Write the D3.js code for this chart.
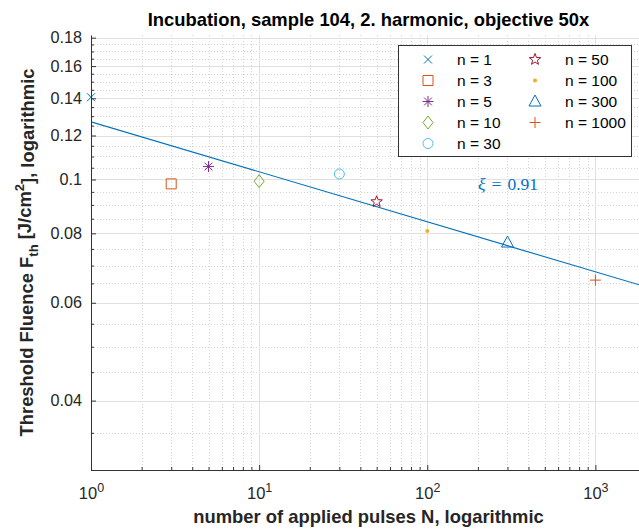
<!DOCTYPE html>
<html>
<head>
<meta charset="utf-8">
<script src="https://cdn.jsdelivr.net/npm/d3@7"></script>
<style>
  html, body { margin: 0; padding: 0; background: #fff; }
  svg { display: block; }
</style>
</head>
<body>
<svg id="chart" width="639" height="530"></svg>
<script>
// Incubation: threshold fluence versus number of applied pulses (log-log)
const pulses  = [1, 3, 5, 10, 30, 50, 100, 300, 1000];
const fluence = [0.1406, 0.0982, 0.1055, 0.0993, 0.1023, 0.0912, 0.0808, 0.0770, 0.0659];
const seriesLabels = ["n = 1", "n = 3", "n = 5", "n = 10", "n = 30", "n = 50", "n = 100", "n = 300", "n = 1000"];

const xTickValues = [1, 10, 100, 1000];
const yTickValues = [0.04, 0.06, 0.08, 0.1, 0.12, 0.14, 0.16, 0.18];
const yTickLabels = ["0.04", "0.06", "0.08", "0.1", "0.12", "0.14", "0.16", "0.18"];

// power-law incubation model F(N) = F1 * N^(xi - 1)
const fitXi = 0.91;
const fitF1 = 0.127;

const titleText = "Incubation, sample 104, 2. harmonic, objective 50x";
const xLabelText = "number of applied pulses N, logarithmic";

// marker style per series (MATLAB-like color order)
const markerTypes  = ["x", "square", "asterisk", "diamond", "circle", "star", "point", "triangle", "plus"];
const markerColors = ["#0072BD", "#D95319", "#7E2F8E", "#77AC30", "#4DBEEE", "#A2142F", "#EDB120", "#0072BD", "#D95319"];

const svg = d3.select("#chart");
const W = 639, H = 530;
const plot = { left: 91, right: 646, top: 35, bottom: 470 };

const x = d3.scaleLog().domain([1, 2000]).range([plot.left, plot.right]);
const y = d3.scaleLog().domain([0.03, 0.182]).range([plot.bottom, plot.top]);

const axisColor = "#333333";
const textColor = "#262626";
const sansFont = "'Liberation Sans', Arial, Helvetica, sans-serif";

svg.append("rect").attr("width", W).attr("height", H).attr("fill", "#fff");

svg.append("defs").append("clipPath").attr("id", "plotClip")
  .append("rect")
  .attr("x", plot.left).attr("y", plot.top)
  .attr("width", plot.right - plot.left).attr("height", plot.bottom - plot.top);

// minor positions: 2..9 per decade on x, 0.005 steps on y
const xMinor = [];
[1, 10, 100, 1000].forEach(d => { for (let k = 2; k <= 9; k++) { if (d * k <= 2000) xMinor.push(d * k); } });
const yMinor = d3.range(30, 183, 5).map(v => v / 1000)
  .filter(v => !yTickValues.some(t => Math.abs(t - v) < 1e-9));

const snap = v => Math.round(v) + 0.5;

// grid
const grid = svg.append("g").attr("clip-path", "url(#plotClip)");
grid.selectAll(".xminor").data(xMinor).join("line")
  .attr("x1", d => snap(x(d))).attr("x2", d => snap(x(d)))
  .attr("y1", plot.top).attr("y2", plot.bottom)
  .attr("stroke", "#d4d4d4").attr("stroke-dasharray", "1,2");
grid.selectAll(".yminor").data(yMinor).join("line")
  .attr("y1", d => snap(y(d))).attr("y2", d => snap(y(d)))
  .attr("x1", plot.left).attr("x2", plot.right)
  .attr("stroke", "#d4d4d4").attr("stroke-dasharray", "1,2");
grid.selectAll(".xmajor").data(xTickValues).join("line")
  .attr("x1", d => snap(x(d))).attr("x2", d => snap(x(d)))
  .attr("y1", plot.top).attr("y2", plot.bottom)
  .attr("stroke", "#e0e0e0");
grid.selectAll(".ymajor").data(yTickValues).join("line")
  .attr("y1", d => snap(y(d))).attr("y2", d => snap(y(d)))
  .attr("x1", plot.left).attr("x2", plot.right)
  .attr("stroke", "#e0e0e0");

// fitted incubation line
const fitLine = d3.line().x(d => x(d)).y(d => y(fitF1 * Math.pow(d, fitXi - 1)));
grid.append("path")
  .datum(x.domain())
  .attr("d", fitLine)
  .attr("fill", "none")
  .attr("stroke", "#0072BD")
  .attr("stroke-width", 1.1);

// marker shapes centred on (0,0)
function markerPath(type) {
  switch (type) {
    case "x": return "M-4,-4L4,4M-4,4L4,-4";
    case "square": return "M-5,-5H5V5H-5Z";
    case "asterisk": return "M-5.5,0H5.5M0,-5.5V5.5M-3.9,-3.9L3.9,3.9M-3.9,3.9L3.9,-3.9";
    case "diamond": return "M0,-6.5L5,0L0,6.5L-5,0Z";
    case "circle": return "M5,0A5,5 0 1,1 -5,0A5,5 0 1,1 5,0Z";
    case "star": {
      let p = "";
      for (let i = 0; i < 10; i++) {
        const r = i % 2 === 0 ? 6 : 2.5;
        const a = -Math.PI / 2 + i * Math.PI / 5;
        p += (i === 0 ? "M" : "L") + (r * Math.cos(a)).toFixed(2) + "," + (r * Math.sin(a)).toFixed(2);
      }
      return p + "Z";
    }
    case "point": return "M2,0A2,2 0 1,1 -2,0A2,2 0 1,1 2,0Z";
    case "triangle": return "M0,-6.5L6,4.5L-6,4.5Z";
    case "plus": return "M-5.5,0H5.5M0,-5.5V5.5";
  }
  return "";
}

function drawMarker(sel, i) {
  sel.append("path")
    .attr("d", markerPath(markerTypes[i]))
    .attr("fill", markerTypes[i] === "point" ? markerColors[i] : "none")
    .attr("stroke", markerColors[i])
    .attr("stroke-width", markerTypes[i] === "point" ? 0 : 1);
}

// data markers
const pts = svg.append("g");
pulses.forEach((n, i) => {
  const g = pts.append("g").attr("transform", `translate(${x(n)},${y(fluence[i])})`);
  drawMarker(g, i);
});

// y axis with inward ticks
const yAxis = d3.axisLeft(y)
  .tickValues(yTickValues)
  .tickFormat((d, i) => yTickLabels[i])
  .tickSizeInner(-5).tickSizeOuter(0).tickPadding(9);
const gy = svg.append("g").attr("transform", `translate(${plot.left},0)`).call(yAxis);
gy.select(".domain").attr("stroke", axisColor);
gy.selectAll(".tick line").attr("stroke", axisColor);
gy.selectAll(".tick text").attr("fill", textColor)
  .attr("font-family", sansFont).attr("font-size", "16.2px");

const gyMinor = svg.append("g").attr("transform", `translate(${plot.left},0)`)
  .call(d3.axisLeft(y).tickValues(yMinor).tickFormat("").tickSizeInner(-3).tickSizeOuter(0));
gyMinor.select(".domain").remove();
gyMinor.selectAll(".tick line").attr("stroke", axisColor);

// x axis with superscript decade labels
const xAxis = d3.axisBottom(x)
  .tickValues(xTickValues)
  .tickSizeInner(-5).tickSizeOuter(0).tickPadding(17);
const gx = svg.append("g").attr("transform", `translate(0,${plot.bottom})`).call(xAxis);
gx.select(".domain").attr("stroke", axisColor);
gx.selectAll(".tick line").attr("stroke", axisColor);
gx.selectAll(".tick text").each(function (d) {
  const t = d3.select(this);
  t.text(null)
    .attr("fill", textColor)
    .attr("font-family", sansFont).attr("font-size", "16.5px");
  t.append("tspan").text("10");
  t.append("tspan").attr("dy", "-0.5em").attr("font-size", "12.5px")
    .text(Math.round(Math.log10(d)));
});

const gxMinor = svg.append("g").attr("transform", `translate(0,${plot.bottom})`)
  .call(d3.axisBottom(x).tickValues(xMinor).tickFormat("").tickSizeInner(-3).tickSizeOuter(0));
gxMinor.select(".domain").remove();
gxMinor.selectAll(".tick line").attr("stroke", axisColor);

// title
svg.append("text")
  .attr("x", (plot.left + plot.right) / 2).attr("y", 26)
  .attr("text-anchor", "middle")
  .attr("font-family", sansFont).attr("font-weight", "bold").attr("font-size", "18.4px")
  .attr("fill", "#000")
  .text(titleText);

// x label
svg.append("text")
  .attr("x", (plot.left + plot.right) / 2).attr("y", 523)
  .attr("text-anchor", "middle")
  .attr("font-family", sansFont).attr("font-weight", "bold").attr("font-size", "18.4px")
  .attr("fill", textColor)
  .text(xLabelText);

// y label with subscript and superscript
const yl = svg.append("text")
  .attr("transform", `translate(33,${(plot.top + plot.bottom) / 2}) rotate(-90)`)
  .attr("text-anchor", "middle")
  .attr("font-family", sansFont).attr("font-weight", "bold").attr("font-size", "18.4px")
  .attr("fill", textColor);
yl.append("tspan").text("Threshold Fluence F");
yl.append("tspan").attr("dy", "0.4em").attr("font-size", "13px").text("th");
yl.append("tspan").attr("dy", "-0.4em").text(" [J/cm");
yl.append("tspan").attr("dy", "-0.55em").attr("font-size", "13px").text("2");
yl.append("tspan").attr("dy", "0.55em").text("], logarithmic");

// fit annotation
const ann = svg.append("text")
  .attr("x", 478).attr("y", 190)
  .attr("font-family", "'Liberation Serif', 'Times New Roman', serif")
  .attr("font-size", "17.5px")
  .attr("fill", "#0072BD");
ann.append("tspan").attr("font-style", "italic").text("\u03BE");
ann.append("tspan").attr("dx", 6).text("=");
ann.append("tspan").attr("dx", 6).text(fitXi.toFixed(2));

// legend (two columns)
const leg = svg.append("g");
leg.append("rect")
  .attr("x", 398.5).attr("y", 45.5).attr("width", 233).attr("height", 111)
  .attr("fill", "#fff").attr("stroke", axisColor).attr("stroke-width", 1);
const rows = 5;
seriesLabels.forEach((lab, i) => {
  const col = Math.floor(i / rows), row = i % rows;
  const mx = col === 0 ? 428 : 535;
  const tx = col === 0 ? 457 : 565;
  const cy = 59.5 + row * 21;
  const g = leg.append("g").attr("transform", `translate(${mx},${cy})`);
  drawMarker(g, i);
  leg.append("text")
    .attr("x", tx).attr("y", cy + 5.5)
    .attr("font-family", sansFont).attr("font-size", "15.5px")
    .attr("font-weight", "normal")
    .attr("fill", "#000")
    .text(lab);
});
</script>
</body>
</html>
